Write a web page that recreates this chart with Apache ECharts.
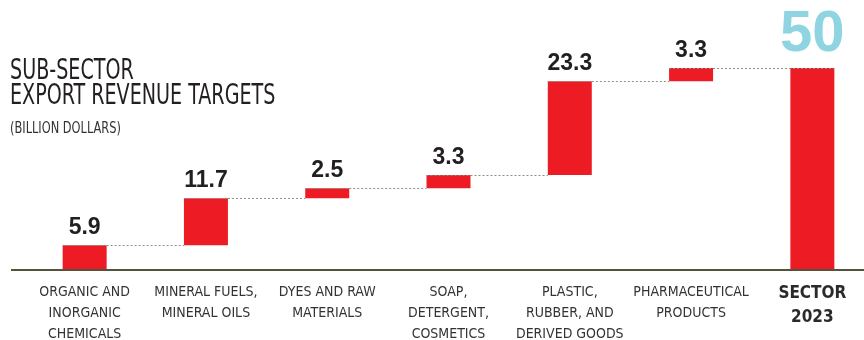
<!DOCTYPE html>
<html><head><meta charset="utf-8">
<script src="https://cdn.jsdelivr.net/npm/echarts@6/dist/echarts.min.js"></script>
<style>html,body{margin:0;padding:0;background:#fff}#c{width:864px;height:340px}</style>
</head><body><div id="c"></div>
<script>
// ---- data ----
const categories = [
  'ORGANIC AND\nINORGANIC\nCHEMICALS',
  'MINERAL FUELS,\nMINERAL OILS',
  'DYES AND RAW\nMATERIALS',
  'SOAP,\nDETERGENT,\nCOSMETICS',
  'PLASTIC,\nRUBBER, AND\nDERIVED GOODS',
  'PHARMACEUTICAL\nPRODUCTS',
  'SECTOR\n2023'
];
const increments = [5.9, 11.7, 2.5, 3.3, 23.3, 3.3];
const total = 50;
const yMin = 0;
const yMax = 50;

// ---- derived ----
const values = increments.concat([total]);
const bases = [];
let run = 0;
increments.forEach(v => { bases.push(run); run += v; });
bases.push(0);
const levels = increments.map((v, i) => [i, +(bases[i] + v).toFixed(1)]);

const FONT = '"DejaVu Sans Condensed","Liberation Sans",sans-serif';
const NUMFONT = '"Liberation Sans",Arial,sans-serif';
const BAR_W = 44;
const RED = '#ed1c24';

const chart = echarts.init(document.getElementById('c'), null, {renderer: 'canvas'});

const option = {
  animation: false,
  backgroundColor: '#fff',
  grid: {left: 24, width: 849, top: 68, bottom: 71, containLabel: false, outerBoundsMode: 'none'},
  xAxis: {
    type: 'category',
    data: categories,
    axisLine: {show: false},
    axisTick: {show: false},
    axisLabel: {
      interval: 0,
      margin: 13,
      fontFamily: FONT,
      fontSize: 14,
      lineHeight: 21,
      color: '#333',
      formatter: (v, i) => i === categories.length - 1
        ? v.split('\n').map(s => '{s|' + s + '}').join('\n') : v,
      rich: {
        s: {fontFamily: FONT, fontSize: 17, fontWeight: 'bold', lineHeight: 24, color: '#2a2a2a'}
      }
    }
  },
  yAxis: {
    type: 'value', min: yMin, max: yMax, show: false,
    splitLine: {show: false}
  },
  series: [
    {
      name: 'base', type: 'bar', stack: 'w', barWidth: BAR_W,
      itemStyle: {color: 'transparent'},
      emphasis: {disabled: true},
      data: bases
    },
    {
      name: 'value', type: 'bar', stack: 'w', barWidth: BAR_W,
      itemStyle: {color: RED},
      label: {
        show: true, position: 'top', distance: 6,
        fontFamily: NUMFONT, fontSize: 23, fontWeight: 'bold', color: '#231f20',
        formatter: p => String(p.value)
      },
      data: values.map((v, i) => i === values.length - 1
        ? {value: v, label: {color: '#8fd4e1', fontSize: 58, distance: 4}}
        : v)
    },
    {
      name: 'connectors', type: 'custom', z: 5, silent: true,
      data: levels,
      renderItem: (params, api) => {
        const i = api.value(0);
        const lvl = api.value(1);
        const p = api.coord([i, lvl]);
        const q = api.coord([i + 1, lvl]);
        const toLast = (i + 1 === values.length - 1);
        const y = Math.round(p[1]) + 0.5;
        return {
          type: 'line',
          shape: {x1: p[0] - BAR_W / 2, y1: y, x2: toLast ? q[0] + BAR_W / 2 : q[0] - BAR_W / 2, y2: y},
          style: {stroke: '#8c8c80', lineWidth: 1, lineDash: [2, 2]}
        };
      }
    }
  ],
  graphic: [
    {
      type: 'text', id: 'title', x: 10, y: 59, scaleX: 0.733,
      style: {text: 'SUB-SECTOR\nEXPORT REVENUE TARGETS', font: '29px ' + FONT, lineHeight: 25, fill: '#231f20'}
    },
    {
      type: 'text', id: 'sub', x: 10, y: 122, scaleX: 0.845,
      style: {text: '(BILLION DOLLARS)', font: '15px ' + FONT, fill: '#333'}
    }
  ]
};
chart.setOption(option);

const y0 = Math.round(chart.convertToPixel({yAxisIndex: 0}, 0));
chart.setOption({
  graphic: [{
    type: 'line', id: 'baseline', z: 10,
    shape: {x1: 11, y1: y0 + 1, x2: 864, y2: y0 + 1},
    style: {stroke: '#55533a', lineWidth: 2}
  }]
});
</script>
</body></html>
